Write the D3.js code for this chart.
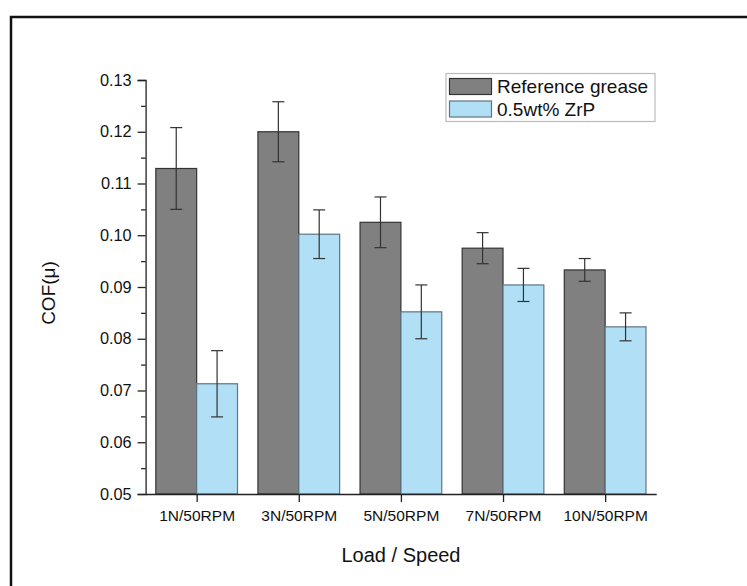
<!DOCTYPE html>
<html>
<head>
<meta charset="utf-8">
<script src="https://cdn.jsdelivr.net/npm/d3@7"></script>
<style>
  body { margin: 0; background: #fff; }
  svg text { font-family: "Liberation Sans", Arial, sans-serif; fill: #111; }
</style>
</head>
<body>
<div id="chart"></div>
<script>
// data
var categories = ["1N/50RPM", "3N/50RPM", "5N/50RPM", "7N/50RPM", "10N/50RPM"];
var seriesNames = ["Reference grease", "0.5wt% ZrP"];
var refValues = [0.1129, 0.1200, 0.1025, 0.0975, 0.0933];
var refErrors = [0.0079, 0.0058, 0.0049, 0.0030, 0.0022];
var zrpValues = [0.0713, 0.1002, 0.0852, 0.0904, 0.0823];
var zrpErrors = [0.0064, 0.0047, 0.0052, 0.0032, 0.0027];
var yTicks = [0.05, 0.06, 0.07, 0.08, 0.09, 0.10, 0.11, 0.12, 0.13];

var width = 747, height = 586;
var colors = ["#808080", "#b1dff5"];
var strokes = ["#333333", "#5f7583"];

var svg = d3.select("#chart").append("svg")
    .attr("width", width)
    .attr("height", height);

// outer frame (right and bottom run off the page)
svg.append("rect")
    .attr("x", 11).attr("y", 17)
    .attr("width", 760).attr("height", 600)
    .attr("fill", "none")
    .attr("stroke", "#111")
    .attr("stroke-width", 2.5);

// x is a linear scale over the category index, y over COF
var xScale = d3.scaleLinear()
    .domain([0.5, 5.5])
    .range([145.6, 656.2]);

var yScale = d3.scaleLinear()
    .domain([0.05, 0.13])
    .range([494, 80]);

var barW = 0.4; // in category units

var series = [
    {name: seriesNames[0], values: refValues, errors: refErrors, offset: -barW},
    {name: seriesNames[1], values: zrpValues, errors: zrpErrors, offset: 0}
];

series.forEach(function(s, si) {
    var g = svg.append("g");
    g.selectAll("rect")
        .data(s.values)
        .enter().append("rect")
        .attr("x", function(d, i) { return xScale(i + 1 + s.offset); })
        .attr("y", function(d) { return yScale(d); })
        .attr("width", function(d, i) { return xScale(i + 1 + s.offset + barW) - xScale(i + 1 + s.offset); })
        .attr("height", function(d) { return yScale(0.05) - yScale(d); })
        .attr("fill", colors[si])
        .attr("stroke", strokes[si])
        .attr("stroke-width", 1.2);
});

// error bars
series.forEach(function(s, si) {
    var g = svg.append("g")
        .attr("stroke", "#333")
        .attr("stroke-width", 1.2);
    s.values.forEach(function(v, i) {
        var cx = xScale(i + 1 + s.offset + barW / 2);
        var top = yScale(v + s.errors[i]), bot = yScale(v - s.errors[i]);
        g.append("line").attr("x1", cx).attr("x2", cx).attr("y1", top).attr("y2", bot);
        g.append("line").attr("x1", cx - 6).attr("x2", cx + 6).attr("y1", top).attr("y2", top);
        g.append("line").attr("x1", cx - 6).attr("x2", cx + 6).attr("y1", bot).attr("y2", bot);
    });
});

// y axis with minor ticks
var yAxis = d3.axisLeft(yScale)
    .tickValues(yTicks)
    .tickFormat(d3.format(".2f"))
    .tickSize(8)
    .tickPadding(6);

var yMinor = d3.axisLeft(yScale)
    .tickValues(d3.range(0.055, 0.13, 0.01))
    .tickFormat("")
    .tickSize(4.5);

var gy = svg.append("g")
    .attr("transform", "translate(" + xScale(0.5) + ",0)")
    .call(yAxis);
svg.append("g")
    .attr("transform", "translate(" + xScale(0.5) + ",0)")
    .call(yMinor)
    .select(".domain").remove();

gy.selectAll("text").style("font-size", "16.3px").attr("fill", "#111");

// x axis
var xAxis = d3.axisBottom(xScale)
    .tickValues(d3.range(1, categories.length + 1))
    .tickFormat(function(d) { return categories[d - 1]; })
    .tickSize(8)
    .tickSizeOuter(0)
    .tickPadding(8);

var gx = svg.append("g")
    .attr("transform", "translate(0," + yScale(0.05) + ")")
    .call(xAxis);
gx.selectAll("text").style("font-size", "15.5px").attr("fill", "#111");

svg.selectAll(".domain, .tick line")
    .attr("stroke", "#222")
    .attr("stroke-width", 1.3);

// axis titles
svg.append("text")
    .attr("x", 401)
    .attr("y", 562)
    .attr("text-anchor", "middle")
    .style("font-size", "20px")
    .text("Load / Speed");

svg.append("text")
    .attr("transform", "translate(55,293) rotate(-90)")
    .attr("text-anchor", "middle")
    .style("font-size", "19px")
    .text("COF(\u03bc)");

// legend
var legend = svg.append("g");
legend.append("rect")
    .attr("x", 446).attr("y", 73.5)
    .attr("width", 209).attr("height", 48)
    .attr("fill", "#fff")
    .attr("stroke", "#bbb")
    .attr("stroke-width", 1.2);

seriesNames.forEach(function(name, i) {
    legend.append("rect")
        .attr("x", 449.5).attr("y", 78.5 + i * 22.5)
        .attr("width", 42).attr("height", 16)
        .attr("fill", colors[i])
        .attr("stroke", strokes[i])
        .attr("stroke-width", 1.2);
    legend.append("text")
        .attr("x", 497)
        .attr("y", 86.5 + i * 22.5)
        .attr("dy", "0.35em")
        .style("font-size", "19px")
        .text(name);
});
</script>
</body>
</html>
